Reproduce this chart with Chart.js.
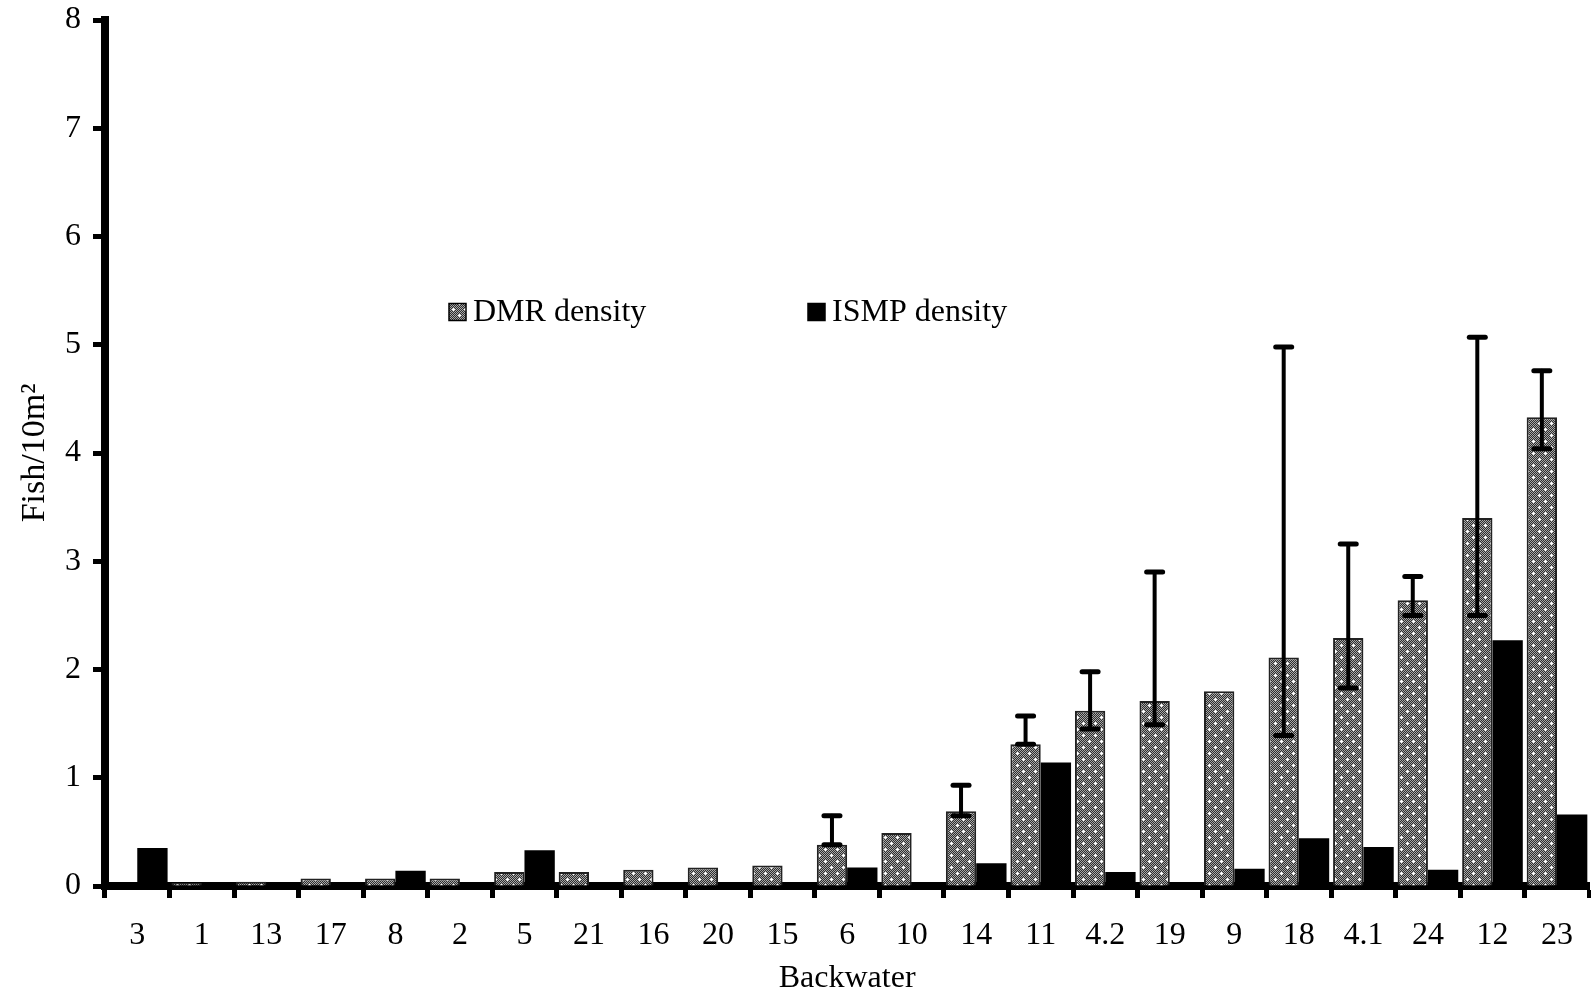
<!DOCTYPE html>
<html>
<head>
<meta charset="utf-8">
<title>Fish density by backwater</title>
<script src="https://cdn.jsdelivr.net/npm/chart.js@4.4.1/dist/chart.umd.min.js"></script>
<style>
  html, body { margin: 0; padding: 0; background: #fff; }
  #wrap { width: 1591px; height: 995px; position: relative; }
</style>
</head>
<body>
<div id="wrap"><canvas id="densityChart"></canvas></div>
<script>
// Backwaters, in the order they appear on the x axis
const backwaters = ['3', '1', '13', '17', '8', '2', '5', '21', '16', '20', '15', '6',
  '10', '14', '11', '4.2', '19', '9', '18', '4.1', '24', '12', '23'];

// Fish per 10 m2
const dmrDensity = [0, 0.03, 0.04, 0.07, 0.07, 0.07, 0.13, 0.13, 0.15, 0.17, 0.19, 0.38,
  0.49, 0.69, 1.31, 1.62, 1.71, 1.80, 2.11, 2.29, 2.64, 3.40, 4.33];
const ismpDensity = [0.35, 0, 0, 0, 0.14, 0, 0.33, 0, 0, 0, 0, 0.17,
  0, 0.21, 1.14, 0.13, 0, 0.16, 0.44, 0.36, 0.15, 2.27, 0.66];

// DMR error bars (lower / upper ends), null where none is drawn
const dmrErrLow = [null, null, null, null, null, null, null, null, null, null, null, 0.38,
  null, 0.65, 1.31, 1.45, 1.49, null, 1.39, 1.83, 2.50, 2.50, 4.04];
const dmrErrHigh = [null, null, null, null, null, null, null, null, null, null, null, 0.65,
  null, 0.93, 1.57, 1.98, 2.90, null, 4.98, 3.16, 2.86, 5.07, 4.76];

const yTicks = [0, 1, 2, 3, 4, 5, 6, 7, 8];

const SERIF = "'Liberation Serif', 'Times New Roman', serif";

/* ---------------------------------------------------------------------------
    FILL PATTERN (grey checker with white crosses)
--------------------------------------------------------------------------- */
const makeDmrPattern = () => {
  const tile = document.createElement('canvas');
  tile.width = 12;
  tile.height = 12;
  const c = tile.getContext('2d');
  for (let y = 0; y < 12; y++) {
    for (let x = 0; x < 12; x++) {
      c.fillStyle = (x + y) % 2 ? '#2e2e2e' : '#a8a8a8';
      c.fillRect(x, y, 1, 1);
    }
  }
  c.fillStyle = '#fff';
  [[3, 3], [9, 9]].forEach(([cx, cy]) => {
    c.fillRect(cx - 1, cy, 3, 1);
    c.fillRect(cx, cy - 1, 1, 3);
  });
  return c.createPattern(tile, 'repeat');
};

/* ---------------------------------------------------------------------------
    PLUGINS
--------------------------------------------------------------------------- */

// Asymmetric error bars on the DMR series
const errorBarPlugin = {
  id: 'errorBars',
  afterDatasetsDraw(chart) {
    const { ctx } = chart;
    const meta = chart.getDatasetMeta(0);
    const yScale = chart.scales.y;
    ctx.save();
    ctx.strokeStyle = '#000';
    ctx.lineCap = 'round';
    dmrErrLow.forEach((lo, i) => {
      const hi = dmrErrHigh[i];
      if (lo == null || hi == null) return;
      const x = meta.data[i].x;
      const yLo = yScale.getPixelForValue(lo);
      const yHi = yScale.getPixelForValue(hi);
      ctx.lineWidth = 4;
      ctx.beginPath();
      ctx.moveTo(x, yLo);
      ctx.lineTo(x, yHi);
      ctx.stroke();
      ctx.lineWidth = 5;
      [yLo, yHi].forEach((yy) => {
        ctx.beginPath();
        ctx.moveTo(x - 8, yy);
        ctx.lineTo(x + 8, yy);
        ctx.stroke();
      });
    });
    ctx.restore();
  }
};

// Legend placed inside the plot area, as in the original figure
const inlineLegendPlugin = {
  id: 'inlineLegend',
  afterDraw(chart) {
    const { ctx } = chart;
    const slots = [{ x: 449, y: 312 }, { x: 808, y: 312 }];
    const box = 17;
    ctx.save();
    ctx.font = `32px ${SERIF}`;
    ctx.textBaseline = 'middle';
    chart.data.datasets.forEach((ds, i) => {
      const { x, y } = slots[i];
      ctx.fillStyle = ds.backgroundColor;
      ctx.fillRect(x, y - box / 2, box, box);
      ctx.lineWidth = 1.5;
      ctx.strokeStyle = '#000';
      ctx.strokeRect(x, y - box / 2, box, box);
      ctx.fillStyle = '#000';
      ctx.fillText(ds.label, x + box + 7, y + 1);
    });
    ctx.restore();
  }
};

/* ---------------------------------------------------------------------------
    CHART
--------------------------------------------------------------------------- */
const ctx = document.getElementById('densityChart').getContext('2d');
const dmrPattern = makeDmrPattern();

new Chart(ctx, {
  type: 'bar',
  data: {
    labels: backwaters,
    datasets: [
      {
        label: 'DMR density',
        data: dmrDensity,
        backgroundColor: dmrPattern,
        borderColor: '#222',
        borderWidth: 2,
        borderSkipped: 'bottom'
      },
      {
        label: 'ISMP density',
        data: ismpDensity,
        backgroundColor: '#000',
        borderWidth: 0
      }
    ]
  },
  options: {
    responsive: true,
    maintainAspectRatio: false,
    animation: false,
    layout: { padding: { top: 20, right: 0, left: 0, bottom: 0 } },
    datasets: {
      bar: { categoryPercentage: 0.94, barPercentage: 1.0 }
    },
    plugins: {
      legend: { display: false },
      tooltip: { enabled: false }
    },
    scales: {
      x: {
        offset: true,
        grid: {
          offset: true,
          drawOnChartArea: false,
          drawTicks: true,
          tickLength: 12,
          tickWidth: 5,
          tickColor: '#000'
        },
        border: { display: true, width: 8, color: '#000' },
        ticks: {
          color: '#000',
          font: { family: SERIF, size: 32 },
          maxRotation: 0,
          autoSkip: false,
          padding: 18
        },
        title: {
          display: true,
          text: 'Backwater',
          color: '#000',
          font: { family: SERIF, size: 32, lineHeight: 1 },
          padding: { top: 0, bottom: 0 }
        },
        afterFit: (scale) => { scale.height = 109; }
      },
      y: {
        min: 0,
        max: 8,
        grid: {
          drawOnChartArea: false,
          drawTicks: true,
          tickLength: 12,
          tickWidth: 5,
          tickColor: '#000'
        },
        border: { display: true, width: 8, color: '#000' },
        afterBuildTicks: (scale) => { scale.ticks = yTicks.map((v) => ({ value: v })); },
        ticks: {
          color: '#000',
          font: { family: SERIF, size: 32 },
          padding: 12
        },
        title: {
          display: true,
          text: 'Fish/10m²',
          color: '#000',
          font: { family: SERIF, size: 34, lineHeight: 1 },
          padding: { top: 18, bottom: 0 }
        },
        afterFit: (scale) => {
          scale.width = 105;
          // let the layout padding alone decide where the top of the axis sits
          scale.paddingTop = 0;
          scale.paddingBottom = 0;
        }
      }
    }
  },
  plugins: [errorBarPlugin, inlineLegendPlugin]
});
</script>
</body>
</html>
